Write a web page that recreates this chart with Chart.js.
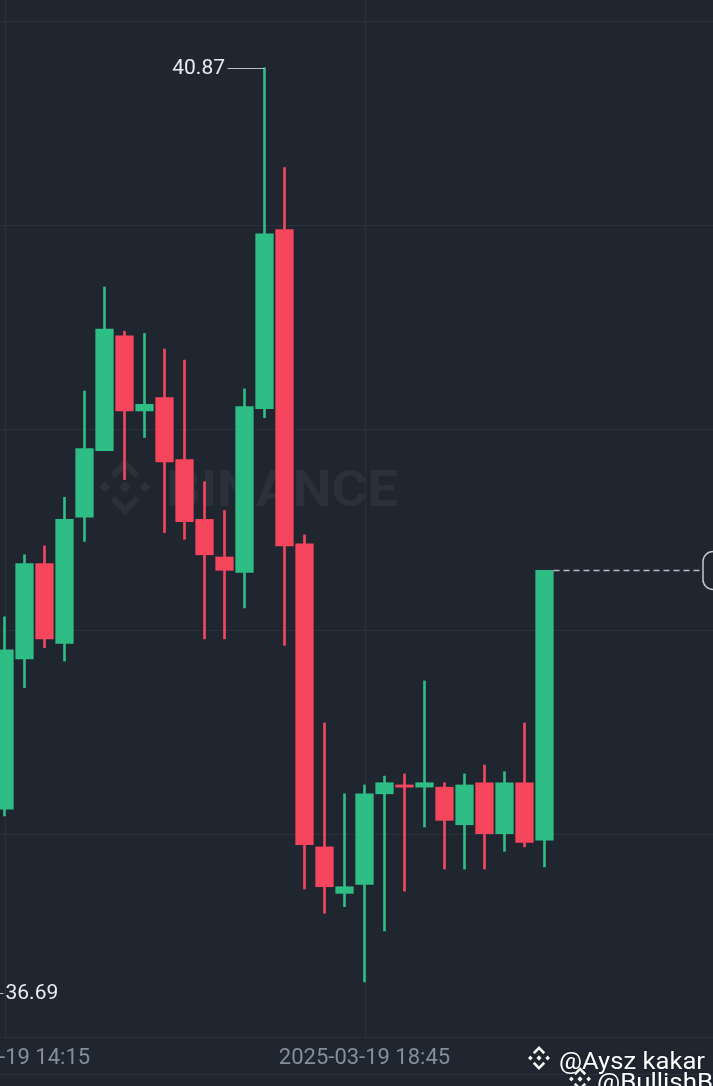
<!DOCTYPE html>
<html>
<head>
<meta charset="utf-8">
<script src="https://cdn.jsdelivr.net/npm/chart.js@4.4.1/dist/chart.umd.min.js"></script>
<style>
  html, body { margin: 0; padding: 0; background: #1f2630; overflow: hidden; }
  #wrap { width: 713px; height: 1086px; }
</style>
</head>
<body>
<div id="wrap"><canvas id="kline" width="713" height="1086"></canvas></div>
<script>
// 15m candles, 2025-03-19
const times = ['14:15', '14:30', '14:45', '15:00', '15:15', '15:30', '15:45', '16:00', '16:15', '16:30',
               '16:45', '17:00', '17:15', '17:30', '17:45', '18:00', '18:15', '18:30', '18:45', '19:00',
               '19:15', '19:30', '19:45', '20:00', '20:15', '20:30', '20:45', '21:00'];
const openP  = [37.52, 38.20, 38.63, 38.27, 38.84, 39.14, 39.66, 39.32, 39.38, 39.10,
                38.83, 38.66, 38.59, 39.33, 40.14, 38.72, 37.35, 37.14, 37.18, 37.59,
                37.63, 37.62, 37.62, 37.45, 37.64, 37.41, 37.64, 37.38];
const highP  = [38.39, 38.67, 38.71, 38.93, 39.41, 39.88, 39.68, 39.67, 39.60, 39.55,
                39.00, 38.87, 39.42, 40.87, 40.42, 38.76, 37.91, 37.59, 37.63, 37.67,
                37.68, 38.10, 37.64, 37.68, 37.72, 37.69, 37.91, 38.60];
const lowP   = [37.49, 38.07, 38.25, 38.19, 38.73, 39.14, 39.01, 39.20, 38.77, 38.74,
                38.29, 38.29, 38.43, 39.29, 38.26, 37.16, 37.05, 37.08, 36.74, 36.97,
                37.15, 37.44, 37.25, 37.25, 37.25, 37.33, 37.35, 37.26];
const closeP = [38.24, 38.63, 38.29, 38.83, 39.15, 39.69, 39.32, 39.35, 39.09, 38.82,
                38.67, 38.60, 39.34, 40.12, 38.71, 37.36, 37.17, 37.17, 37.59, 37.64,
                37.62, 37.64, 37.47, 37.63, 37.41, 37.64, 37.37, 38.60];

// axis stuff
const xTickIndex = [0, 18];
const xTickLabels = ['2025-03-19 14:15', '2025-03-19 18:45'];
const yGrid = [37.41, 38.33, 39.24, 40.16, 41.08];
const maxMark = { index: 13, value: 40.87 };
const minMark = { index: -2, value: 36.69 };   // candle is off screen to the left
const lastPrice = 38.60;

const UP = '#2ebd85';
const DOWN = '#f6465d';
const BG = '#1f2630';
const GRID = '#2a313b';

const candleColors = openP.map((o, i) => closeP[i] >= o ? UP : DOWN);
const bodies = openP.map((o, i) => ({ x: i, y: [o, closeP[i]] }));
const wicks = lowP.map((l, i) => ({ x: i, y: [l, highP[i]] }));

function drawLogo(ctx, cx, cy, r, color) {
    ctx.fillStyle = color;
    const diamond = (x, y, h) => {
        ctx.beginPath();
        ctx.moveTo(cx + x * r, cy + (y - h) * r);
        ctx.lineTo(cx + (x + h) * r, cy + y * r);
        ctx.lineTo(cx + x * r, cy + (y + h) * r);
        ctx.lineTo(cx + (x - h) * r, cy + y * r);
        ctx.closePath();
        ctx.fill();
    };
    diamond(0, 0, 0.22);
    diamond(-0.72, 0, 0.2);
    diamond(0.72, 0, 0.2);
    [-1, 1].forEach(s => {
        const pts = [[0, 1], [0.52, 0.48], [0.36, 0.32], [0, 0.68], [-0.36, 0.32], [-0.52, 0.48]];
        ctx.beginPath();
        pts.forEach((p, k) => {
            const px = cx + p[0] * r, py = cy + s * p[1] * r;
            if (k === 0) ctx.moveTo(px, py); else ctx.lineTo(px, py);
        });
        ctx.closePath();
        ctx.fill();
    });
}

// text squeezed/stretched to a given width
function fitText(ctx, text, x, y, width) {
    const w = ctx.measureText(text).width;
    ctx.save();
    ctx.translate(x, y);
    ctx.scale(width / w, 1);
    ctx.fillText(text, 0, 0);
    ctx.restore();
}

const decor = {
    id: 'decor',
    beforeDraw(chart) {
        const ctx = chart.ctx;
        ctx.save();
        ctx.fillStyle = BG;
        ctx.fillRect(0, 0, chart.width, chart.height);
        ctx.restore();
    },
    beforeDatasetsDraw(chart) {
        const ctx = chart.ctx, xs = chart.scales.x, ys = chart.scales.y, a = chart.chartArea;
        ctx.save();
        ctx.strokeStyle = GRID;
        ctx.lineWidth = 1;
        yGrid.forEach(v => {
            const y = Math.round(ys.getPixelForValue(v)) + 0.5;
            ctx.beginPath(); ctx.moveTo(0, y); ctx.lineTo(chart.width, y); ctx.stroke();
        });
        xTickIndex.forEach(i => {
            const x = Math.round(xs.getPixelForValue(i)) + 0.5;
            ctx.beginPath(); ctx.moveTo(x, 0); ctx.lineTo(x, a.bottom); ctx.stroke();
        });

        // watermark
        const wm = 'rgba(255,255,255,0.05)';
        drawLogo(ctx, 125, 487, 28, wm);
        ctx.font = 'bold 50px Roboto';
        ctx.textBaseline = 'alphabetic';
        ctx.textAlign = 'left';
        ctx.fillStyle = wm;
        fitText(ctx, 'BINANCE', 166, 506, 232);
        ctx.restore();
    },
    afterDatasetsDraw(chart) {
        const ctx = chart.ctx, xs = chart.scales.x, ys = chart.scales.y, a = chart.chartArea;
        ctx.save();

        // max / min markers
        ctx.font = '21px Roboto';
        ctx.textBaseline = 'middle';
        ctx.strokeStyle = '#b7bdc6';
        ctx.fillStyle = '#eaecef';
        ctx.lineWidth = 1;
        let x = xs.getPixelForValue(maxMark.index), y = Math.round(ys.getPixelForValue(maxMark.value)) + 0.5;
        ctx.beginPath(); ctx.moveTo(x, y); ctx.lineTo(x - 37, y); ctx.stroke();
        ctx.textAlign = 'right';
        ctx.fillText(maxMark.value.toFixed(2), x - 39.5, y);
        x = xs.getPixelForValue(minMark.index); y = Math.round(ys.getPixelForValue(minMark.value)) + 0.5;
        ctx.beginPath(); ctx.moveTo(x, y); ctx.lineTo(x + 39, y); ctx.stroke();
        ctx.textAlign = 'left';
        ctx.fillText(minMark.value.toFixed(2), x + 41, y);

        // last price line + box
        const last = xs.getPixelForValue(closeP.length - 1) + 9;
        y = Math.round(ys.getPixelForValue(lastPrice)) + 0.5;
        ctx.setLineDash([6, 4]);
        ctx.lineWidth = 1.5;
        ctx.beginPath(); ctx.moveTo(last, y); ctx.lineTo(700, y); ctx.stroke();
        ctx.setLineDash([]);
        ctx.strokeStyle = '#c3c7ce';
        ctx.beginPath();
        ctx.roundRect(703, y - 19, 90, 38, 10);
        ctx.fillStyle = BG;
        ctx.fill();
        ctx.stroke();
        ctx.fillStyle = '#eaecef';
        ctx.fillText(lastPrice.toFixed(2), 714, y);

        // time axis
        ctx.strokeStyle = GRID;
        ctx.lineWidth = 1;
        [a.bottom + 0.5, 1074.5].forEach(yy => {
            ctx.beginPath(); ctx.moveTo(0, yy); ctx.lineTo(chart.width, yy); ctx.stroke();
        });
        ctx.font = '22px Roboto';
        ctx.fillStyle = '#848e9c';
        ctx.textAlign = 'center';
        xTickIndex.forEach((i, k) => {
            ctx.fillText(xTickLabels[k], xs.getPixelForValue(i), 1058);
        });

        // share watermark bottom right
        ctx.shadowColor = 'rgba(0,0,0,0.5)';
        ctx.shadowBlur = 2;
        ctx.font = '23px Roboto';
        ctx.textAlign = 'left';
        ctx.textBaseline = 'alphabetic';
        drawLogo(ctx, 580, 1079, 12, '#f2f2f2');
        ctx.fillStyle = '#ffffff';
        fitText(ctx, '@BullishB', 597, 1090, 116);
        drawLogo(ctx, 539, 1058, 12, '#f2f2f2');
        ctx.fillStyle = '#ffffff';
        fitText(ctx, '@Aysz kakar', 559, 1069, 146);
        ctx.restore();
    }
};

new Chart(document.getElementById('kline'), {
    type: 'bar',
    data: {
        datasets: [
            {
                label: 'body',
                data: bodies,
                backgroundColor: candleColors,
                borderWidth: 0,
                barThickness: 17.6,
                grouped: false,
                order: 0
            },
            {
                label: 'wick',
                data: wicks,
                backgroundColor: candleColors,
                borderWidth: 0,
                barThickness: 2,
                grouped: false,
                order: 1
            }
        ]
    },
    options: {
        responsive: false,
        animation: false,
        devicePixelRatio: 1,
        layout: { padding: { left: 0, right: 0, top: 0, bottom: 49 } },
        scales: {
            x: { type: 'linear', min: -0.225, max: 35.425, offset: false, display: false },
            y: { type: 'linear', min: 36.491, max: 41.177, display: false }
        },
        plugins: {
            legend: { display: false },
            tooltip: { enabled: false }
        }
    },
    plugins: [decor]
});
</script>
</body>
</html>
